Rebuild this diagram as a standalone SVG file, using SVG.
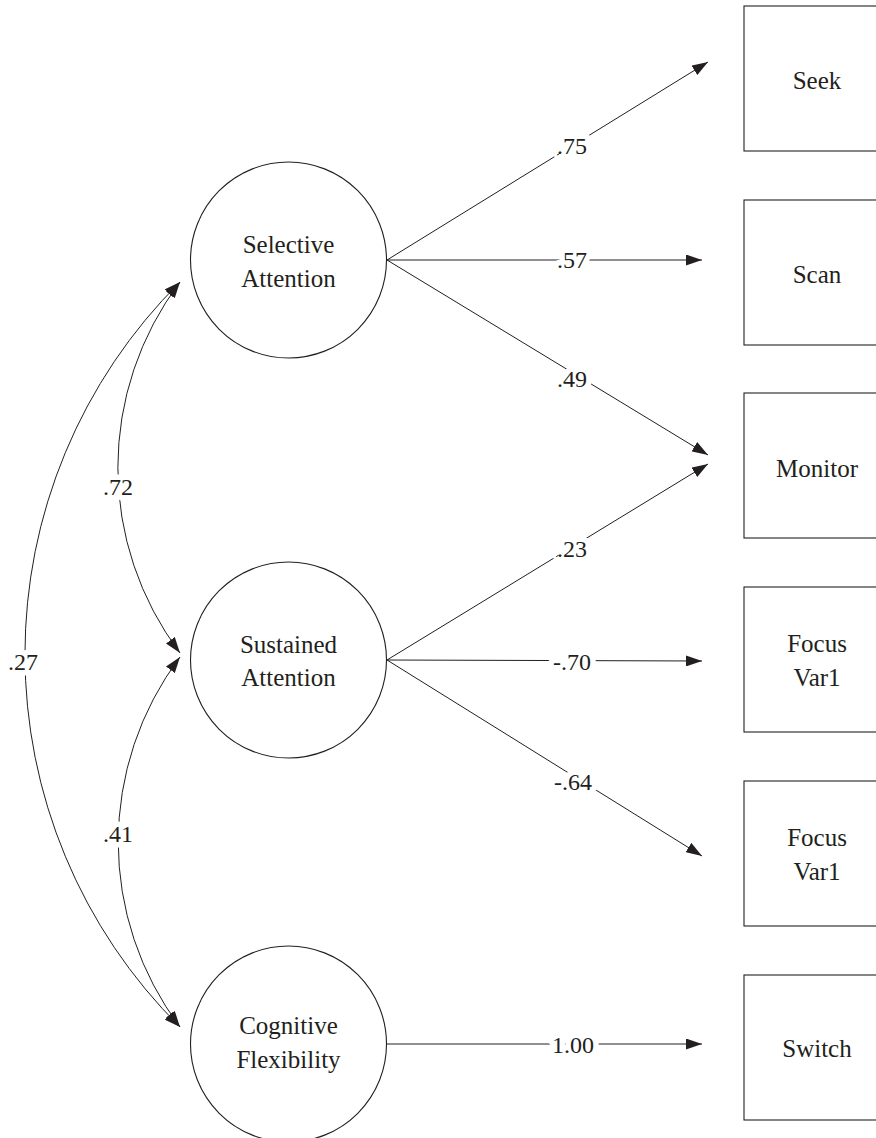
<svg xmlns="http://www.w3.org/2000/svg" width="876" height="1138" viewBox="0 0 876 1138">
<style>
.node{fill:#fff;stroke:#231f20;stroke-width:1.1}
.t{font-family:"Liberation Serif","Times New Roman",serif;font-size:25px;fill:#231f20;text-anchor:middle}
.lbl{font-family:"Liberation Serif","Times New Roman",serif;font-size:24px;fill:#231f20;text-anchor:middle;stroke:#fff;stroke-width:11px;paint-order:stroke;stroke-linejoin:round}
.e{fill:none;stroke:#231f20;stroke-width:1}
</style>
<defs>
<marker id="ah" viewBox="0 0 16 11" refX="16" refY="5.5" markerWidth="16" markerHeight="11" markerUnits="userSpaceOnUse" orient="auto-start-reverse">
<path d="M0,0 L16,5.5 L0,11 z" fill="#231f20"/>
</marker>
</defs>
<rect width="876" height="1138" fill="#fff"/>
<g id="connectors">
<path class="e" d="M387,260 L708,62" marker-end="url(#ah)"/>
<path class="e" d="M387,260 L702,260" marker-end="url(#ah)"/>
<path class="e" d="M387,260 L708,455" marker-end="url(#ah)"/>
<path class="e" d="M387,660 L708,464" marker-end="url(#ah)"/>
<path class="e" d="M387,660 L702,661" marker-end="url(#ah)"/>
<path class="e" d="M387,660 L702,856" marker-end="url(#ah)"/>
<path class="e" d="M387,1044 L702,1044" marker-end="url(#ah)"/>
<path class="e" d="M180,282 A308,308 0 0,0 180,653" marker-start="url(#ah)" marker-end="url(#ah)"/>
<path class="e" d="M180,657 A308,308 0 0,0 180,1027" marker-start="url(#ah)" marker-end="url(#ah)"/>
<path class="e" d="M180,282 A525,525 0 0,0 180,1027" marker-start="url(#ah)" marker-end="url(#ah)"/>
<text class="lbl" x="572" y="154">.75</text>
<text class="lbl" x="572" y="268">.57</text>
<text class="lbl" x="572" y="387">.49</text>
<text class="lbl" x="572" y="557">.23</text>
<text class="lbl" x="572" y="670">-.70</text>
<text class="lbl" x="573" y="790">-.64</text>
<text class="lbl" x="573" y="1053">1.00</text>
<text class="lbl" x="118" y="495">.72</text>
<text class="lbl" x="118" y="842">.41</text>
<text class="lbl" x="23" y="670">.27</text>
</g>
<g id="selective">
<circle class="node" cx="288.5" cy="260" r="98"/>
<text class="t" x="288.5" y="253">Selective</text>
<text class="t" x="288.5" y="287">Attention</text>
</g>
<g id="sustained">
<circle class="node" cx="288.5" cy="660" r="98"/>
<text class="t" x="288.5" y="653">Sustained</text>
<text class="t" x="288.5" y="686">Attention</text>
</g>
<g id="cognitive">
<circle class="node" cx="288.5" cy="1044" r="98"/>
<text class="t" x="288.5" y="1034">Cognitive</text>
<text class="t" x="288.5" y="1068">Flexibility</text>
</g>
<g id="seek">
<rect class="node" x="744" y="6" width="146" height="145"/>
<text class="t" x="817" y="89">Seek</text>
</g>
<g id="scan">
<rect class="node" x="744" y="200" width="146" height="145"/>
<text class="t" x="817" y="283">Scan</text>
</g>
<g id="monitor">
<rect class="node" x="744" y="393" width="146" height="145"/>
<text class="t" x="817" y="477">Monitor</text>
</g>
<g id="focus1">
<rect class="node" x="744" y="587" width="146" height="145"/>
<text class="t" x="817" y="652">Focus</text>
<text class="t" x="817" y="686">Var1</text>
</g>
<g id="focus2">
<rect class="node" x="744" y="781" width="146" height="145"/>
<text class="t" x="817" y="846">Focus</text>
<text class="t" x="817" y="880">Var1</text>
</g>
<g id="switch">
<rect class="node" x="744" y="975" width="146" height="145"/>
<text class="t" x="817" y="1057">Switch</text>
</g>
</svg>
